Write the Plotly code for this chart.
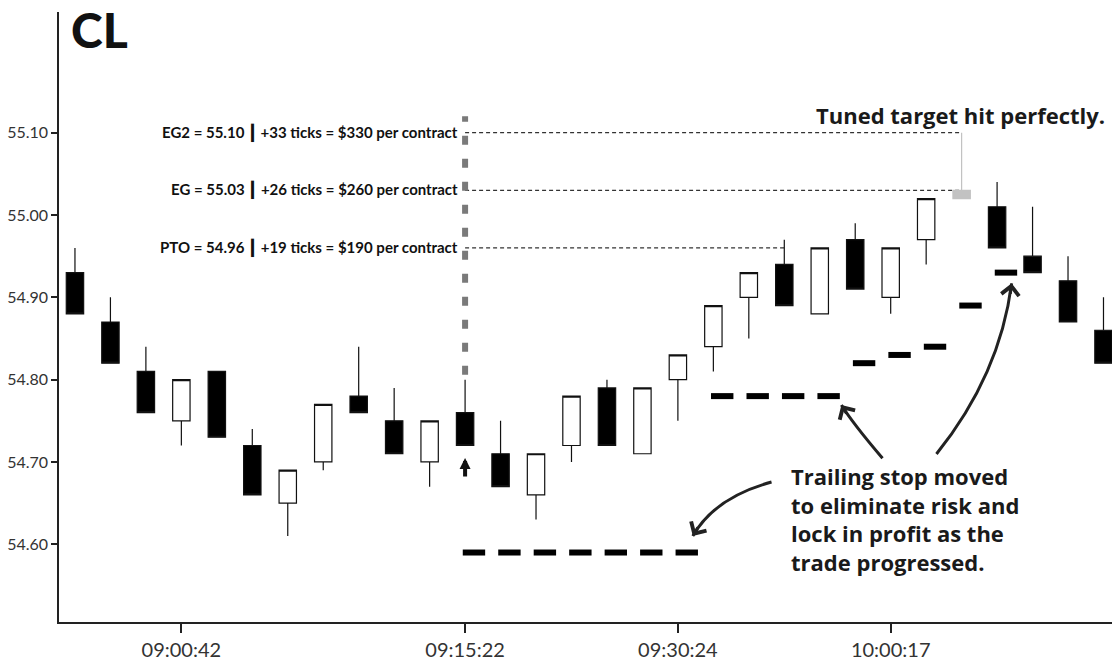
import plotly.graph_objects as go

# ---------------- data ----------------
candle_x = [0, 1, 2, 3, 4, 5, 6, 7, 8, 9, 10, 11, 12, 13, 14, 15, 16, 17, 18, 19,
            20, 21, 22, 23, 24, 26, 27, 28, 29]
candle_open = [54.93, 54.87, 54.81, 54.75, 54.81, 54.72, 54.65, 54.70, 54.78, 54.75,
               54.70, 54.76, 54.71, 54.66, 54.72, 54.79, 54.71, 54.80, 54.84, 54.90,
               54.94, 54.88, 54.97, 54.90, 54.97, 55.01, 54.95, 54.92, 54.86]
candle_high = [54.96, 54.90, 54.84, 54.80, 54.81, 54.74, 54.69, 54.77, 54.84, 54.79,
               54.75, 54.80, 54.75, 54.71, 54.78, 54.80, 54.79, 54.83, 54.89, 54.93,
               54.97, 54.96, 54.99, 54.96, 55.02, 55.04, 55.01, 54.95, 54.90]
candle_low = [54.88, 54.82, 54.76, 54.72, 54.73, 54.66, 54.61, 54.69, 54.76, 54.71,
              54.67, 54.72, 54.67, 54.63, 54.70, 54.72, 54.71, 54.75, 54.81, 54.85,
              54.89, 54.88, 54.91, 54.88, 54.94, 54.96, 54.93, 54.87, 54.82]
candle_close = [54.88, 54.82, 54.76, 54.80, 54.73, 54.66, 54.69, 54.77, 54.76, 54.71,
                54.75, 54.72, 54.67, 54.71, 54.78, 54.72, 54.79, 54.83, 54.89, 54.93,
                54.89, 54.96, 54.91, 54.96, 55.02, 54.96, 54.93, 54.87, 54.82]

# target-hit candle (drawn in grey)
target_x = [25]
target_open = [55.02]
target_high = [55.10]
target_low = [55.02]
target_close = [55.03]

# trailing stop levels
stop_x = [11, 12, 13, 14, 15, 16, 17, 18, 19, 20, 21, 22, 23, 24, 25, 26]
stop_val = [54.59, 54.59, 54.59, 54.59, 54.59, 54.59, 54.59,
            54.78, 54.78, 54.78, 54.78, 54.82, 54.83, 54.84, 54.89, 54.93]

# targets
entry_x = 11
level_names = ["EG2", "EG", "PTO"]
level_vals = [55.10, 55.03, 54.96]
level_ticks = [33, 26, 19]
level_usd = [330, 260, 190]
level_end_x = [25, 25, 20]

tick_x = [3, 11, 17, 23]
tick_labels = ["09:00:42", "09:15:22", "09:30:24", "10:00:17"]
y_ticks = [54.60, 54.70, 54.80, 54.90, 55.00, 55.10]

AXFONT = "Lato, sans-serif"
BOLD = "Open Sans, Lato, sans-serif"

fig = go.Figure()

fig.add_trace(go.Candlestick(
    x=candle_x, open=candle_open, high=candle_high, low=candle_low, close=candle_close,
    increasing=dict(line=dict(color="#111111", width=1.2), fillcolor="#ffffff"),
    decreasing=dict(line=dict(color="#111111", width=1.2), fillcolor="#000000"),
    whiskerwidth=0, showlegend=False, hoverinfo="skip",
))
fig.add_trace(go.Candlestick(
    x=target_x, open=target_open, high=target_high, low=target_low, close=target_close,
    increasing=dict(line=dict(color="#c2c2c2", width=1.2), fillcolor="#c2c2c2"),
    decreasing=dict(line=dict(color="#c2c2c2", width=1.2), fillcolor="#c2c2c2"),
    whiskerwidth=0, showlegend=False, hoverinfo="skip",
))

# trailing stop dashes
fig.add_trace(go.Scatter(
    x=[v + 0.25 for v in stop_x], y=stop_val, mode="markers",
    marker=dict(symbol="line-ew", size=16, line=dict(color="#000000", width=6)),
    showlegend=False, hoverinfo="skip",
))

shapes = []
annotations = []

# target level dashed lines and labels
for name, val, tk, usd, xe in zip(level_names, level_vals, level_ticks, level_usd, level_end_x):
    shapes.append(dict(type="line", xref="x", yref="y", x0=entry_x, x1=xe, y0=val, y1=val,
                       line=dict(color="#333333", width=1.3, dash="4px,3px"), layer="below"))
    annotations.append(dict(
        x=entry_x, y=val, xref="x", yref="y", xanchor="right", yanchor="middle",
        xshift=-5, showarrow=False,
        text=f"<b>{name} = {val:.2f} ┃ +{tk} ticks = ${usd} per contract</b>",
        font=dict(family="Lato, sans-serif", size=15, color="#111111", weight="bold"),
    ))

# entry dotted vertical line
shapes.append(dict(type="line", xref="x", yref="y", x0=entry_x, x1=entry_x,
                   y0=54.806, y1=55.12,
                   line=dict(color="#7a7a7a", width=6, dash="9px,14px")))

# curved arrows (quadratic curves)
curves = [
    # (tail, control, head) in (index, price), arrow tail offset in px
    ((19.64, 54.6756), (18.04, 54.657), (17.42, 54.610), (6, -10)),
    ((22.77, 54.7045), (21.92, 54.7475), (21.61, 54.7692), (6, 10)),
    ((24.29, 54.7097), (26.08, 54.8057), (26.41, 54.917), (-1.5, 12)),
]
for tail, ctrl, head, (ax, ay) in curves:
    shapes.append(dict(type="path", xref="x", yref="y",
                       path=f"M {tail[0]},{tail[1]} Q {ctrl[0]},{ctrl[1]} {head[0]},{head[1]}",
                       line=dict(color="#222222", width=3)))
    annotations.append(dict(x=head[0], y=head[1], xref="x", yref="y", ax=ax, ay=ay,
                            axref="pixel", ayref="pixel", showarrow=True, text="",
                            arrowhead=4, arrowsize=1.15, arrowwidth=3, arrowcolor="#222222"))

# small entry arrow
annotations.append(dict(x=entry_x, y=54.7048, xref="x", yref="y", ax=0, ay=20,
                        showarrow=True, text="", arrowhead=2, arrowsize=0.55,
                        arrowwidth=4, arrowcolor="#111111"))

# title
annotations.append(dict(x=0.0091, y=0.9713, xref="paper", yref="paper",
                        xanchor="left", yanchor="middle", showarrow=False,
                        text="CL", font=dict(family="Lato, sans-serif", size=48,
                                             color="#111111", weight=900)))

# tuned target note
annotations.append(dict(x=1, y=55.1217, xref="paper", yref="y", xanchor="right",
                        yanchor="middle", xshift=-5, showarrow=False,
                        text="<b>Tuned target hit perfectly.</b>",
                        font=dict(family=BOLD, size=22, color="#1a1a1a")))

# trailing stop note
annotations.append(dict(x=20.12, y=54.6307, xref="x", yref="y", xanchor="left",
                        yanchor="middle", align="left", showarrow=False,
                        text=("<b>Trailing stop moved<br>to eliminate risk and<br>"
                              "lock in profit as the<br>trade progressed.</b>"),
                        font=dict(family=BOLD, size=22, color="#1a1a1a")))

fig.update_layout(
    width=1112, height=662,
    margin=dict(l=59, r=0, t=12, b=40),
    paper_bgcolor="white", plot_bgcolor="white",
    shapes=shapes, annotations=annotations,
    showlegend=False,
    xaxis=dict(range=[-0.45, 29.24], rangeslider=dict(visible=False), automargin=False,
               tickmode="array", tickvals=tick_x, ticktext=tick_labels,
               showgrid=False, zeroline=False, showline=True, linecolor="#222222",
               linewidth=1.5, ticks="outside", ticklen=9, tickwidth=2, tickcolor="#222222",
               tickfont=dict(family=AXFONT, size=20, color="#333333")),
    yaxis=dict(range=[54.5056, 55.2466], tickmode="array", tickvals=y_ticks, automargin=False,
               ticktext=[f"{v:.2f}" for v in y_ticks],
               showgrid=False, zeroline=False, showline=True, linecolor="#222222",
               linewidth=1.5, ticks="outside", ticklen=6, tickwidth=2, tickcolor="#222222",
               tickfont=dict(family=AXFONT, size=16, color="#333333")),
)

# remove the browser's default 8px page margin so the figure fills the window exactly
fig.write_html("out.html", config={"displayModeBar": False},
               post_script="document.body.style.margin='0';")
